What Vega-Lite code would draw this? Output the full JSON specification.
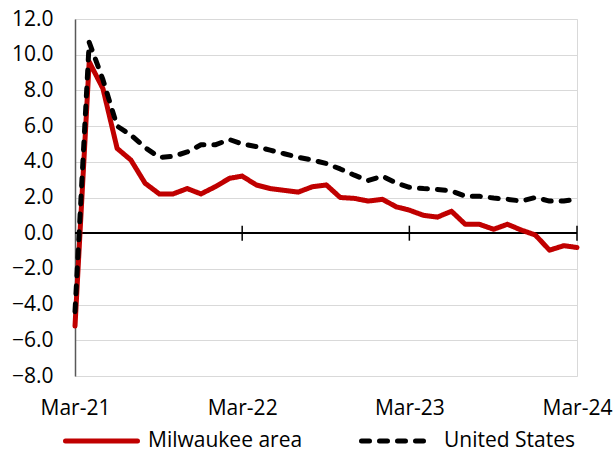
{
  "$schema": "https://vega.github.io/schema/vega-lite/v6.json",
  "width": 502,
  "height": 357,
  "autosize": {"type": "none"},
  "padding": {"left": 75, "top": 19, "right": 39, "bottom": 79},
  "background": "white",
  "config": {
    "view": {"stroke": "#D9D9D9", "strokeWidth": 1},
    "font": "Open Sans",
    "axis": {"labelOverlap": false, "labelFlush": false}
  },
  "datasets": {
    "series": [
      {"date": "2021-03-01", "Milwaukee area": -5.2, "United States": -4.4},
      {"date": "2021-04-01", "Milwaukee area": 9.6, "United States": 10.7},
      {"date": "2021-05-01", "Milwaukee area": 8.1, "United States": 8.6},
      {"date": "2021-06-01", "Milwaukee area": 4.75, "United States": 6.0},
      {"date": "2021-07-01", "Milwaukee area": 4.1, "United States": 5.5},
      {"date": "2021-08-01", "Milwaukee area": 2.8, "United States": 4.8},
      {"date": "2021-09-01", "Milwaukee area": 2.2, "United States": 4.25},
      {"date": "2021-10-01", "Milwaukee area": 2.2, "United States": 4.3},
      {"date": "2021-11-01", "Milwaukee area": 2.5, "United States": 4.55},
      {"date": "2021-12-01", "Milwaukee area": 2.2, "United States": 4.95},
      {"date": "2022-01-01", "Milwaukee area": 2.6, "United States": 4.95},
      {"date": "2022-02-01", "Milwaukee area": 3.07, "United States": 5.25},
      {"date": "2022-03-01", "Milwaukee area": 3.2, "United States": 5.0},
      {"date": "2022-04-01", "Milwaukee area": 2.7, "United States": 4.85},
      {"date": "2022-05-01", "Milwaukee area": 2.5, "United States": 4.65},
      {"date": "2022-06-01", "Milwaukee area": 2.4, "United States": 4.45},
      {"date": "2022-07-01", "Milwaukee area": 2.3, "United States": 4.25},
      {"date": "2022-08-01", "Milwaukee area": 2.6, "United States": 4.1},
      {"date": "2022-09-01", "Milwaukee area": 2.7, "United States": 3.9},
      {"date": "2022-10-01", "Milwaukee area": 2.0, "United States": 3.6},
      {"date": "2022-11-01", "Milwaukee area": 1.95, "United States": 3.25},
      {"date": "2022-12-01", "Milwaukee area": 1.8, "United States": 2.95},
      {"date": "2023-01-01", "Milwaukee area": 1.9, "United States": 3.2},
      {"date": "2023-02-01", "Milwaukee area": 1.47, "United States": 2.8},
      {"date": "2023-03-01", "Milwaukee area": 1.29, "United States": 2.57},
      {"date": "2023-04-01", "Milwaukee area": 1.0, "United States": 2.5},
      {"date": "2023-05-01", "Milwaukee area": 0.9, "United States": 2.45},
      {"date": "2023-06-01", "Milwaukee area": 1.23, "United States": 2.37},
      {"date": "2023-07-01", "Milwaukee area": 0.5, "United States": 2.07},
      {"date": "2023-08-01", "Milwaukee area": 0.5, "United States": 2.07},
      {"date": "2023-09-01", "Milwaukee area": 0.22, "United States": 1.97},
      {"date": "2023-10-01", "Milwaukee area": 0.5, "United States": 1.9},
      {"date": "2023-11-01", "Milwaukee area": 0.17, "United States": 1.8},
      {"date": "2023-12-01", "Milwaukee area": -0.1, "United States": 2.0},
      {"date": "2024-01-01", "Milwaukee area": -0.95, "United States": 1.8},
      {"date": "2024-02-01", "Milwaukee area": -0.7, "United States": 1.8},
      {"date": "2024-03-01", "Milwaukee area": -0.8, "United States": 1.9}
    ],
    "ticks": [
      {"date": "2022-03-01"},
      {"date": "2023-03-01"},
      {"date": "2024-03-01"}
    ]
  },
  "layer": [
    {
      "data": {"name": "series"},
      "mark": {"type": "rule", "color": "#000000", "strokeWidth": 1.5},
      "encoding": {
        "y": {
          "datum": 0,
          "type": "quantitative",
          "scale": {"domain": [-8, 12], "nice": false, "zero": false},
          "axis": {
            "title": null,
            "values": [-8, -6, -4, -2, 0, 2, 4, 6, 8, 10, 12],
            "format": ".1f",
            "labelOverlap": false,
            "labelFlush": false,
            "grid": true,
            "gridColor": "#D9D9D9",
            "gridWidth": 1.2,
            "domain": true,
            "domainColor": "#595959",
            "domainWidth": 1.5,
            "ticks": false,
            "tickSize": 0,
            "labelPadding": 22,
            "labelFontSize": 21,
            "labelColor": "#000000",
            "labelFont": "Open Sans"
          }
        }
      }
    },
    {
      "data": {"name": "ticks"},
      "mark": {"type": "rule", "color": "#000000", "strokeWidth": 1.5},
      "encoding": {
        "x": {
          "field": "date",
          "type": "temporal",
          "scale": {"type": "utc", "domain": [{"year": 2021, "month": "mar", "date": 1, "utc": true}, {"year": 2024, "month": "mar", "date": 1, "utc": true}], "nice": false},
          "axis": {
            "title": null,
            "values": [
              {"year": 2021, "month": "mar", "date": 1, "utc": true},
              {"year": 2022, "month": "mar", "date": 1, "utc": true},
              {"year": 2023, "month": "mar", "date": 1, "utc": true},
              {"year": 2024, "month": "mar", "date": 1, "utc": true}
            ],
            "format": "%b-%y",
            "labelFlush": false,
            "labelOverlap": false,
            "domain": false,
            "ticks": false,
            "grid": false,
            "labelPadding": 21,
            "labelFontSize": 21,
            "labelColor": "#000000",
            "labelFont": "Open Sans"
          }
        },
        "y": {
          "datum": -0.42,
          "type": "quantitative",
          "scale": {"domain": [-8, 12], "nice": false, "zero": false},
          "axis": {
            "title": null,
            "values": [-8, -6, -4, -2, 0, 2, 4, 6, 8, 10, 12],
            "format": ".1f",
            "labelOverlap": false,
            "labelFlush": false,
            "grid": true,
            "gridColor": "#D9D9D9",
            "gridWidth": 1.2,
            "domain": true,
            "domainColor": "#595959",
            "domainWidth": 1.5,
            "ticks": false,
            "tickSize": 0,
            "labelPadding": 22,
            "labelFontSize": 21,
            "labelColor": "#000000",
            "labelFont": "Open Sans"
          }
        },
        "y2": {"datum": 0.42}
      }
    },
    {
      "data": {"name": "series"},
      "transform": [
        {"fold": ["Milwaukee area", "United States"], "as": ["series", "value"]}
      ],
      "mark": {"type": "line", "strokeWidth": 5, "strokeCap": "round", "strokeJoin": "round", "clip": false},
      "encoding": {
        "x": {
          "field": "date",
          "type": "temporal",
          "scale": {"type": "utc", "domain": [{"year": 2021, "month": "mar", "date": 1, "utc": true}, {"year": 2024, "month": "mar", "date": 1, "utc": true}], "nice": false},
          "axis": {
            "title": null,
            "values": [
              {"year": 2021, "month": "mar", "date": 1, "utc": true},
              {"year": 2022, "month": "mar", "date": 1, "utc": true},
              {"year": 2023, "month": "mar", "date": 1, "utc": true},
              {"year": 2024, "month": "mar", "date": 1, "utc": true}
            ],
            "format": "%b-%y",
            "labelFlush": false,
            "labelOverlap": false,
            "domain": false,
            "ticks": false,
            "grid": false,
            "labelPadding": 21,
            "labelFontSize": 21,
            "labelColor": "#000000",
            "labelFont": "Open Sans"
          }
        },
        "y": {
          "field": "value",
          "type": "quantitative",
          "scale": {"domain": [-8, 12], "nice": false, "zero": false},
          "axis": {
            "title": null,
            "values": [-8, -6, -4, -2, 0, 2, 4, 6, 8, 10, 12],
            "format": ".1f",
            "labelOverlap": false,
            "labelFlush": false,
            "grid": true,
            "gridColor": "#D9D9D9",
            "gridWidth": 1.2,
            "domain": true,
            "domainColor": "#595959",
            "domainWidth": 1.5,
            "ticks": false,
            "tickSize": 0,
            "labelPadding": 22,
            "labelFontSize": 21,
            "labelColor": "#000000",
            "labelFont": "Open Sans"
          }
        },
        "color": {
          "field": "series",
          "type": "nominal",
          "scale": {"domain": ["Milwaukee area", "United States"], "range": ["#C00000", "#000000"]},
          "legend": {
            "title": null,
            "orient": "none",
            "direction": "horizontal",
            "legendX": -12,
            "legendY": 408,
            "symbolType": "stroke",
            "symbolSize": 5184,
            "symbolStrokeWidth": 5,
            "clipHeight": 28,
            "labelFontSize": 21,
            "labelLimit": 400,
            "labelColor": "#000000",
            "labelFont": "Open Sans",
            "labelOffset": 8,
            "columnPadding": 56,
            "encode": {"symbols": {"update": {"strokeCap": {"value": "round"}}}}
          }
        },
        "strokeDash": {
          "field": "series",
          "type": "nominal",
          "scale": {"domain": ["Milwaukee area", "United States"], "range": [[1, 0], [8, 10]]},
          "legend": null
        }
      }
    }
  ]
}
